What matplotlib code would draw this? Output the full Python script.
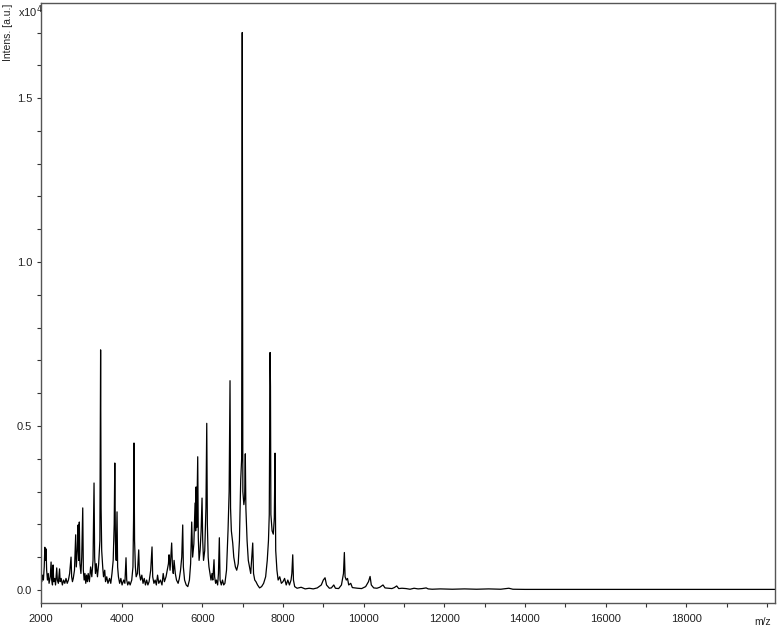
import numpy as np
import matplotlib
matplotlib.use("Agg")
import matplotlib.pyplot as plt
from matplotlib.ticker import MultipleLocator, FixedLocator

plt.rcParams["font.family"] = ["Liberation Sans", "DejaVu Sans"]

# spectrum trace: m/z and intensity (a.u.)
mz = [
    2000, 2020, 2040, 2060, 2080, 2095, 2110, 2125, 2140, 2160, 2180, 2200,
    2230, 2250, 2265, 2285, 2300, 2315, 2340, 2360, 2390, 2405, 2430, 2460,
    2475, 2500, 2530, 2560, 2590, 2620, 2650, 2680, 2710, 2745, 2760, 2780,
    2800, 2830, 2860, 2875, 2900, 2920, 2935, 2950, 2965, 2990, 3010, 3035,
    3050, 3070, 3090, 3110, 3130, 3150, 3170, 3200, 3230, 3260, 3290, 3315,
    3330, 3350, 3370, 3400, 3430, 3460, 3478, 3490, 3505, 3530, 3550, 3580,
    3600, 3630, 3660, 3700, 3730, 3760, 3790, 3815, 3830, 3845, 3865, 3885,
    3900, 3920, 3950, 3980, 4010, 4050, 4080, 4108, 4125, 4150, 4180, 4210,
    4250, 4280, 4295, 4306, 4320, 4340, 4360, 4390, 4423, 4440, 4470, 4500,
    4530, 4560, 4590, 4620, 4650, 4680, 4720, 4753, 4770, 4800, 4830, 4860,
    4890, 4920, 4960, 5000, 5030, 5060, 5100, 5130, 5160, 5175, 5200, 5240,
    5260, 5280, 5300, 5330, 5360, 5400, 5430, 5460, 5490, 5514, 5530, 5560,
    5600, 5640, 5680, 5710, 5737, 5760, 5790, 5820, 5835, 5845, 5860, 5886,
    5900, 5920, 5945, 5970, 5993, 6010, 6030, 6060, 6090, 6110, 6125, 6145,
    6165, 6190, 6215, 6240, 6260, 6290, 6305, 6330, 6350, 6380, 6400, 6422,
    6440, 6470, 6500, 6530, 6560, 6600, 6638, 6665, 6687, 6700, 6720, 6754,
    6780, 6820, 6853, 6890, 6920, 6952, 6975, 6990, 7005, 7030, 7050, 7066,
    7080, 7095, 7110, 7140, 7170, 7200, 7250, 7270, 7300, 7330, 7370, 7420,
    7470, 7520, 7570, 7610, 7640, 7660, 7680, 7690, 7700, 7730, 7760, 7785,
    7803, 7820, 7850, 7880, 7920, 7960, 8000, 8040, 8080, 8120, 8160, 8200,
    8220, 8242, 8260, 8290, 8350, 8450, 8550, 8650, 8750, 8850, 8950, 9000,
    9043, 9080, 9150, 9200, 9260, 9300, 9380, 9450, 9500, 9522, 9540, 9570,
    9600, 9630, 9680, 9720, 9780, 9850, 9950, 10050, 10120, 10160, 10190,
    10250, 10330, 10400, 10480, 10530, 10620, 10700, 10760, 10820, 10870,
    10950, 11050, 11150, 11250, 11350, 11450, 11550, 11600, 11700, 11900,
    12200, 12500, 12800, 13100, 13400, 13600, 13700, 14000, 16000, 18000,
    20200,
]
intens = [
    400, 250, 450, 300, 700, 1300, 900, 1250, 600, 300, 500, 200,
    400, 850, 300, 150, 760, 250, 350, 150, 670, 300, 200, 640,
    250, 350, 150, 300, 200, 350, 200, 300, 500, 1000, 400, 250,
    350, 600, 1680, 700, 1200, 1980, 900, 2070, 800, 500, 1000, 2500,
    600, 300, 500, 200, 450, 250, 500, 250, 700, 400, 900, 3260,
    1000, 500, 800, 400, 800, 1500, 7320, 2500, 1200, 700, 400, 600,
    250, 400, 200, 350, 200, 500, 900, 2000, 3870, 1500, 900, 2380,
    700, 400, 200, 350, 150, 300, 200, 980, 300, 150, 250, 150,
    300, 700, 2130, 4480, 1500, 700, 400, 500, 1220, 500, 300, 450,
    200, 350, 150, 300, 150, 250, 600, 1310, 400, 200, 300, 150,
    450, 200, 300, 150, 500, 250, 400, 600, 800, 1070, 600, 1430,
    700, 500, 900, 500, 300, 200, 350, 600, 1000, 1980, 700, 300,
    150, 100, 300, 800, 2070, 1000, 1400, 2650, 1800, 3140, 1900, 4060,
    1600, 900, 1200, 1800, 2800, 1500, 900, 1200, 2500, 5080, 2000, 1000,
    700, 500, 300, 500, 300, 920, 400, 200, 300, 150, 500, 1590,
    300, 150, 300, 150, 200, 600, 1830, 3000, 6380, 2500, 1800, 1430,
    1000, 700, 600, 800, 1500, 3355, 4000, 17000, 3000, 2600, 2800, 4150,
    2500, 2000, 1500, 900, 700, 500, 1430, 500, 300, 250, 150, 60,
    100, 200, 400, 900, 1500, 2300, 7240, 6200, 2300, 1800, 1700, 2200,
    4170, 1200, 600, 300, 400, 200, 250, 350, 150, 300, 150, 300,
    500, 1070, 300, 100, 50, 80, 30, 50, 30, 60, 150, 300,
    370, 150, 50, 60, 150, 50, 40, 150, 500, 1140, 400, 300,
    350, 150, 200, 70, 60, 50, 40, 100, 250, 410, 150,
    60, 50, 80, 150, 60, 50, 40, 70, 120, 40,
    50, 40, 20, 50, 30, 40, 60, 30, 20, 30,
    20, 30, 20, 30, 20, 50, 20, 15, 15, 15,
    15,
]

x_labels = [2000, 4000, 6000, 8000, 10000, 12000, 14000, 16000, 18000]
y_labels = ["0.0", "0.5", "1.0", "1.5"]
y_ticks = [0, 5000, 10000, 15000]

W, H = 778, 629
fig = plt.figure(figsize=(W / 100, H / 100), dpi=100)
ax = fig.add_axes([41 / W, 1 - 603 / H, (775 - 41) / W, (603 - 3) / H])

ax.plot(mz, intens, color="black", linewidth=0.9)

ax.set_xlim(2000, 20200)
ax.set_ylim(-400, 17900)

ax.xaxis.set_major_locator(FixedLocator(x_labels))
ax.xaxis.set_minor_locator(MultipleLocator(1000))
ax.set_xticklabels([str(v) for v in x_labels])
ax.yaxis.set_major_locator(FixedLocator(y_ticks))
ax.yaxis.set_minor_locator(MultipleLocator(1000))
ax.set_yticklabels(y_labels)

ax.tick_params(which="both", direction="out", length=3, width=0.8,
               colors="#333333", labelsize=8, labelcolor="#222222")
ax.tick_params(axis="x", pad=5)
for s in ax.spines.values():
    s.set_color("#555555")
    s.set_linewidth(1.0)

fig.text(3 / W, 1 - 4 / H, "Intens. [a.u.]", rotation=90, ha="left", va="top",
         fontsize=7.5, color="#222222")
fig.text(18 / W, 1 - 3 / H, r"x10$^4$", ha="left", va="top",
         fontsize=8, color="#222222")
fig.text(771 / W, 1 - 627 / H, "m/z", ha="right", va="bottom",
         fontsize=7.5, color="#222222")

fig.savefig("out.png", dpi=100)
